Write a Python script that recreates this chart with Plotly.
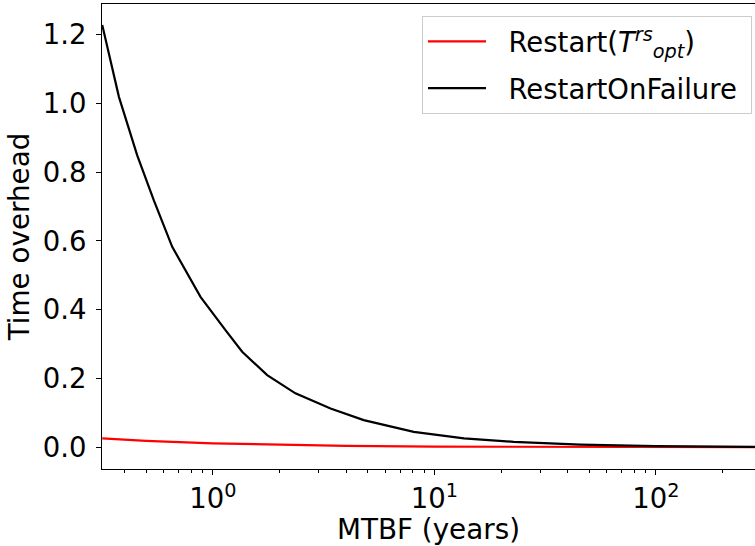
import plotly.graph_objects as go

# MTBF in years (log axis) and the time overhead of both strategies
mtbf_black = [0.317, 0.377, 0.456, 0.542, 0.656, 0.88, 1.141, 1.357, 1.76, 2.36,
              3.4, 4.8, 8.07, 13.6, 22.8, 45.6, 100, 300]
overhead_rof = [1.228, 1.019, 0.849, 0.718, 0.583, 0.4375, 0.341, 0.278, 0.21, 0.157,
                0.113, 0.079, 0.045, 0.026, 0.016, 0.008, 0.0035, 0.0012]

mtbf_red = [0.317, 0.5, 1, 2, 4, 10, 30, 100, 300]
overhead_rs = [0.026, 0.019, 0.0116, 0.0071, 0.0044, 0.0022, 0.0009, 0.0004, 0.0002]

xtick_vals = [1, 10, 100]
xtick_text = ['10<sup>0</sup>', '10<sup>1</sup>', '10<sup>2</sup>']
minor_vals = [0.4, 0.5, 0.6, 0.7, 0.8, 0.9, 2, 3, 4, 5, 6, 7, 8, 9,
              20, 30, 40, 50, 60, 70, 80, 90, 200, 300]
ytick_vals = [0.0, 0.2, 0.4, 0.6, 0.8, 1.0, 1.2]

font = 'DejaVu Sans'
fsize = 27.5
title_size = 27.8
sp = '\u00a0'  # non-breaking spaces pad the legend text like matplotlib does

fig = go.Figure()
fig.add_scatter(x=mtbf_red, y=overhead_rs, mode='lines', line=dict(color='red', width=2.2),
                name=sp * 2 + 'Restart(<i>T</i><sup><i>rs</i></sup><sub><i>opt</i></sub>)', legendgroup='a')
fig.add_scatter(x=mtbf_black, y=overhead_rof, mode='lines', line=dict(color='black', width=2.2),
                name=sp * 2 + 'RestartOnFailure' + sp, legendgroup='b')

fig.update_layout(
    width=755, height=546,
    margin=dict(l=102, r=0, t=4, b=77),
    plot_bgcolor='white', paper_bgcolor='white',
    font=dict(family=font, size=fsize, color='black'),
    legend=dict(x=0.9954, xanchor='right', y=0.974, yanchor='top',
                bgcolor='rgba(255,255,255,0.8)', bordercolor='#cccccc', borderwidth=1,
                font=dict(size=fsize), tracegroupgap=8, itemwidth=58),
)
fig.update_xaxes(
    type='log', range=[-0.5, 2.447], automargin=False,
    showline=True, linecolor='black', linewidth=1.2, mirror=True,
    showgrid=False, zeroline=False,
    tickvals=xtick_vals, ticktext=xtick_text,
    ticks='outside', ticklen=5, tickwidth=1.2, tickcolor='black',
    minor=dict(tickvals=minor_vals, ticks='outside', ticklen=3, tickwidth=1, tickcolor='black', showgrid=False),
    # en space nudges the centred title right, the original axes run past the crop
    title=dict(text='\u2002MTBF (years)', standoff=5, font=dict(size=title_size)),
)
fig.update_yaxes(
    range=[-0.063, 1.289], automargin=False,
    showline=True, linecolor='black', linewidth=1.2, mirror=False,
    showgrid=False, zeroline=False,
    tickvals=ytick_vals, tickformat='.1f',
    ticks='outside', ticklen=5, tickwidth=1.2, tickcolor='black',
    ticklabelstandoff=4,
    title=dict(text='Time overhead', standoff=4, font=dict(size=title_size)),
)

# the page body has an 8px margin by default; drop it so the figure sits at the corner
fig.write_html('out.html', config={'displayModeBar': False},
               post_script="document.body.style.margin='0px';")
